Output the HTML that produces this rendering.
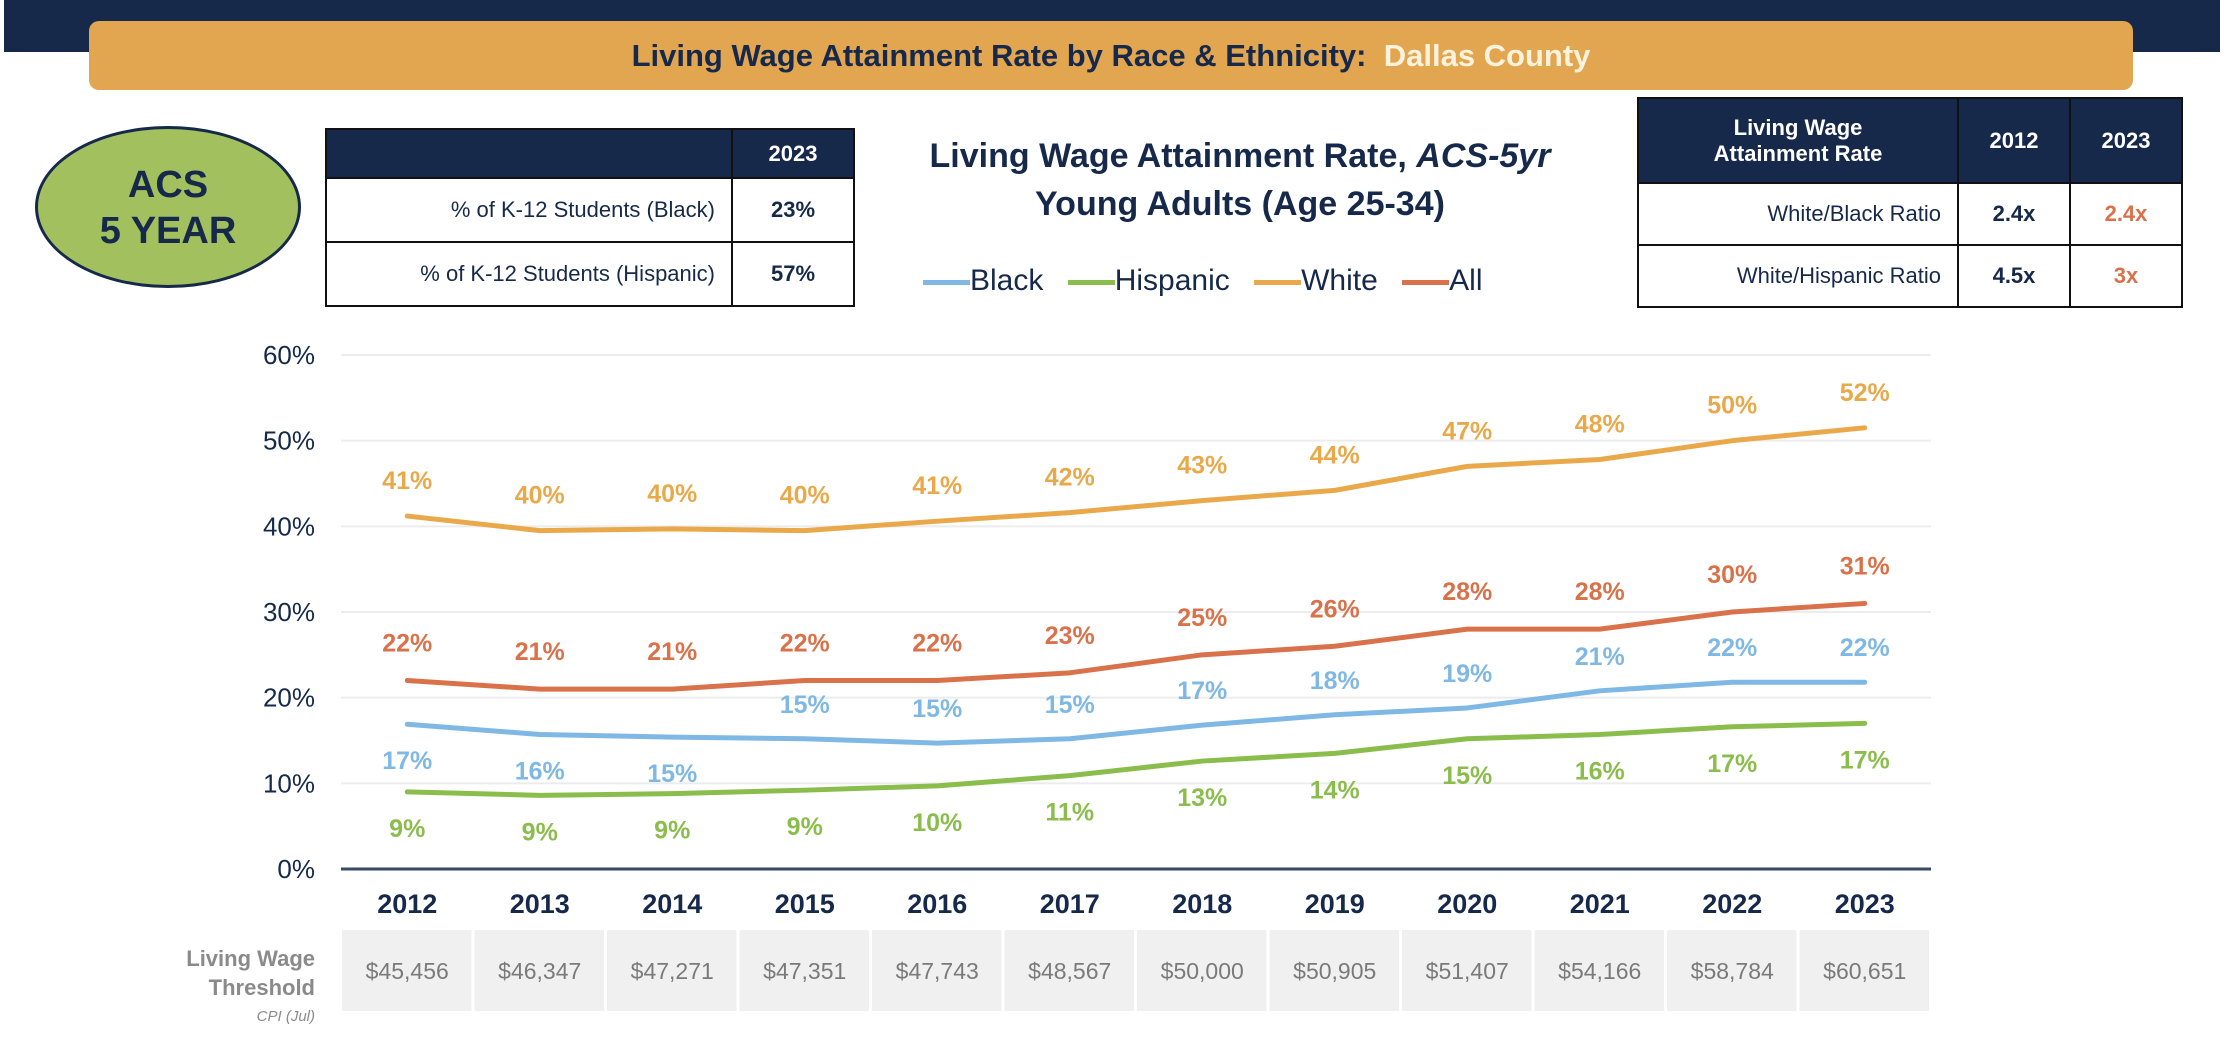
<!DOCTYPE html>
<html><head><meta charset="utf-8">
<style>
body{margin:0;width:2226px;height:1054px;background:#fff;position:relative;overflow:hidden;font-family:"Liberation Sans",sans-serif;color:#16294a}
.abs{position:absolute}
table{border-collapse:collapse;position:absolute}
td{border:2px solid #111;padding:0}
</style></head><body>
<div class="abs" style="left:4px;top:0;width:2216px;height:52px;background:#16294a"></div>
<div class="abs" style="left:89px;top:21px;width:2044px;height:69px;background:#e2a550;border-radius:10px;text-align:center;line-height:69px;font-weight:bold;font-size:31px;color:#16294a">Living Wage Attainment Rate by Race &amp; Ethnicity:&nbsp; <span style="color:#fdf3dc">Dallas County</span></div>

<div class="abs" style="left:35px;top:126px;width:266px;height:162px;border:3px solid #16294a;border-radius:50%;background:#a2c15e;text-align:center;font-weight:bold;font-size:38px;line-height:46px;box-sizing:border-box;padding-top:33px">ACS<br>5 YEAR</div>

<table style="left:325px;top:128px;width:530px;font-size:22px">
<tr style="height:49px;background:#16294a;color:#fff;font-weight:bold"><td style="width:404px"></td><td style="text-align:center">2023</td></tr>
<tr style="height:64px"><td style="text-align:right;padding-right:16px">% of K-12 Students (Black)</td><td style="text-align:center;font-weight:bold">23%</td></tr>
<tr style="height:64px"><td style="text-align:right;padding-right:16px">% of K-12 Students (Hispanic)</td><td style="text-align:center;font-weight:bold">57%</td></tr>
</table>

<div class="abs" style="left:855px;top:132px;width:770px;text-align:center;font-weight:bold;font-size:34px;line-height:48px">Living Wage Attainment Rate, <i>ACS-5yr</i><br>Young Adults (Age 25-34)</div>

<div class="abs" style="left:923px;top:262px;font-size:30px;white-space:nowrap;line-height:38px">
<span><span style="display:inline-block;width:47px;height:5px;background:#7fb8e4;vertical-align:middle"></span>Black</span>
<span style="margin-left:16px"><span style="display:inline-block;width:47px;height:5px;background:#8bbd4d;vertical-align:middle"></span>Hispanic</span>
<span style="margin-left:16px"><span style="display:inline-block;width:47px;height:5px;background:#e9a94b;vertical-align:middle"></span>White</span>
<span style="margin-left:16px"><span style="display:inline-block;width:47px;height:5px;background:#d9714a;vertical-align:middle"></span>All</span>
</div>

<table style="left:1637px;top:97px;width:546px;font-size:22px">
<tr style="height:85px;background:#16294a;color:#fff;font-weight:bold"><td style="width:318px;text-align:center;line-height:26px">Living Wage<br>Attainment Rate</td><td style="width:110px;text-align:center">2012</td><td style="text-align:center">2023</td></tr>
<tr style="height:62px"><td style="text-align:right;padding-right:16px">White/Black Ratio</td><td style="text-align:center;font-weight:bold">2.4x</td><td style="text-align:center;font-weight:bold;color:#d9714a">2.4x</td></tr>
<tr style="height:62px"><td style="text-align:right;padding-right:16px">White/Hispanic Ratio</td><td style="text-align:center;font-weight:bold">4.5x</td><td style="text-align:center;font-weight:bold;color:#d9714a">3x</td></tr>
</table>

<svg class="abs" id="chart" style="left:0;top:0" width="2226" height="1054"></svg>

<script>
const years=["2012","2013","2014","2015","2016","2017","2018","2019","2020","2021","2022","2023"];
const white=[41.2,39.5,39.7,39.5,40.6,41.6,43,44.2,47,47.8,50,51.5];
const allRace=[22,21,21,22,22,22.9,25,26,28,28,30,31];
const black=[16.9,15.7,15.4,15.2,14.7,15.2,16.8,18,18.8,20.8,21.8,21.8];
const hispanic=[9,8.6,8.8,9.2,9.7,10.9,12.6,13.5,15.2,15.7,16.6,17];
const whiteLbl=["41%","40%","40%","40%","41%","42%","43%","44%","47%","48%","50%","52%"];
const allLbl=["22%","21%","21%","22%","22%","23%","25%","26%","28%","28%","30%","31%"];
const blackLbl=["17%","16%","15%","15%","15%","15%","17%","18%","19%","21%","22%","22%"];
const hispLbl=["9%","9%","9%","9%","10%","11%","13%","14%","15%","16%","17%","17%"];
const blackBelow=[true,true,true,false,false,false,false,false,false,false,false,false];
const yTicks=[0,10,20,30,40,50,60];
const thresholds=["$45,456","$46,347","$47,271","$47,351","$47,743","$48,567","$50,000","$50,905","$51,407","$54,166","$58,784","$60,651"];

const svg=document.getElementById('chart');
const NS='http://www.w3.org/2000/svg';
const x0=341,x1=1931,y0=869,yTop=355;
const step=(x1-x0)/years.length;
const xs=i=>x0+step*(i+0.5);
const ys=v=>y0-(v/60)*(y0-yTop);
function mk(t,a){const e=document.createElementNS(NS,t);for(const k in a)e.setAttribute(k,a[k]);svg.appendChild(e);return e;}

yTicks.forEach(v=>{
  if(v>0){const g=mk('line',{x1:x0,x2:x1,y1:ys(v),y2:ys(v),stroke:'#ececec','stroke-width':2});
  
  }
  const t=mk('text',{x:315,y:ys(v)+9,'text-anchor':'end','font-size':26,fill:'#16294a','font-family':'Liberation Sans, sans-serif'});
  t.textContent=v+'%';
  
  
});
const ax=mk('line',{x1:x0,x2:x1,y1:y0,y2:y0,stroke:'#3a4a66','stroke-width':3});



years.forEach((y,i)=>{
  const t=mk('text',{x:xs(i),y:913,'text-anchor':'middle','font-size':27,'font-weight':'bold',fill:'#16294a','font-family':'Liberation Sans, sans-serif'});
  t.textContent=y;
  
  
  const r=mk('rect',{x:x0+step*i+1,y:930,width:step-3,height:81,fill:'#f0f0f0'});
  
  
  const tt=mk('text',{x:xs(i),y:979,'text-anchor':'middle','font-size':23,fill:'#7a7a7a','font-family':'Liberation Sans, sans-serif'});
  tt.textContent=thresholds[i];
  
  
});
[["Living Wage",966,22,'bold'],["Threshold",995,22,'bold'],["CPI (Jul)",1021,15,'normal']].forEach(([s,y,f,w])=>{
  const t=mk('text',{x:315,y:y,'text-anchor':'end','font-size':f,'font-weight':w,fill:'#8a8a8a','font-style':w==='normal'?'italic':'normal','font-family':'Liberation Sans, sans-serif'});
  t.textContent=s;
  
  
});

function series(vals,lbls,color,name,offFn){
  const p=mk('polyline',{points:vals.map((v,i)=>xs(i)+','+ys(v)).join(' '),fill:'none',stroke:color,'stroke-width':5,'stroke-linejoin':'round','stroke-linecap':'round'});
  
  
  vals.forEach((v,i)=>{
    const t=mk('text',{x:xs(i),y:ys(v)+offFn(i),'text-anchor':'middle','font-size':25,'font-weight':'bold',fill:color,'font-family':'Liberation Sans, sans-serif'});
    t.textContent=lbls[i];
    
    
  });
}
series(white,whiteLbl,'#e9a94b','white',()=>-27);
series(allRace,allLbl,'#d9714a','all',()=>-29);
series(black,blackLbl,'#7fb8e4','black',i=>blackBelow[i]?45:-26);
series(hispanic,hispLbl,'#8bbd4d','hispanic',()=>45);
</script>
</body></html>
